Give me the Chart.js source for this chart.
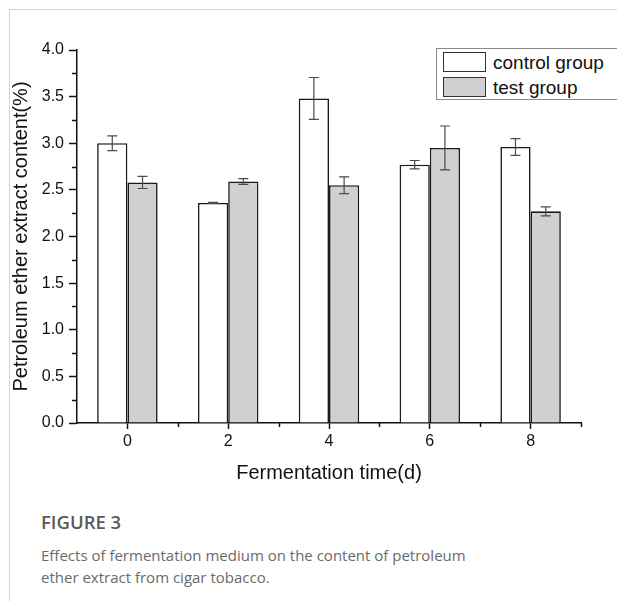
<!DOCTYPE html>
<html>
<head>
<meta charset="utf-8">
<script src="https://cdn.jsdelivr.net/npm/chart.js@4"></script>
<style>
    html, body { margin: 0; padding: 0; background: #fff; }
    body { width: 617px; height: 601px; position: relative; overflow: hidden; }
    #card { position: absolute; left: 9px; top: 9px; width: 700px; height: 700px;
            border-left: 1px solid #d4d4d4; border-top: 1px solid #d4d4d4; }
    #chartBox { position: absolute; left: 0; top: 0; width: 617px; height: 490px; }
    #legend { position: absolute; left: 436px; top: 48px; width: 200px; height: 50px;
              border: 1px solid #8a8a8a; background: #fff;
              font-family: "Liberation Sans", Arial, sans-serif; font-size: 19px; color: #111; }
    .item { position: absolute; left: 6px; height: 21px; line-height: 21px; white-space: nowrap; }
    .swatch { display: inline-block; width: 41px; height: 18px; border: 1.5px solid #333;
              vertical-align: top; margin-right: 7px; }
    #caption { position: absolute; left: 41px; top: 509px; font-family: "Open Sans", sans-serif; }
    #caption .fig { font-size: 18.5px; font-weight: 600; color: #5a5a5a; line-height: 26px; margin-bottom: 9px; }
    #caption .txt { font-size: 15px; color: #6a6a6a; line-height: 22px; font-weight: 400; }
</style>
</head>
<body>
<div id="card"></div>
<div id="chartBox"><canvas id="chart" width="617" height="490"></canvas></div>
<div id="legend"></div>
<div id="caption">
    <div class="fig">FIGURE 3</div>
    <div class="txt">Effects of fermentation medium on the content of petroleum<br>ether extract from cigar tobacco.</div>
</div>
<script>
// fermentation days
const days = [0, 2, 4, 6, 8];
const controlMeans = [3.00, 2.36, 3.48, 2.77, 2.96];
const controlErr = [0.08, 0.005, 0.225, 0.045, 0.09];
const testMeans = [2.58, 2.59, 2.55, 2.95, 2.27];
const testErr = [0.065, 0.03, 0.09, 0.235, 0.048];
const yMajorTicks = [0, 0.5, 1, 1.5, 2, 2.5, 3, 3.5, 4];
const yMinorTicks = [0.25, 0.75, 1.25, 1.75, 2.25, 2.75, 3.25, 3.75];
const xMinorTicks = [1, 3, 5, 7, 9];

const seriesLabels = ['control group', 'test group'];
const seriesFill = ['#ffffff', '#d0d0d0'];
const errors = [controlErr, testErr];

// error bars drawn from the bar elements and y scale
const errorBarPlugin = {
    id: 'errorBars',
    afterDatasetsDraw(chart) {
        const ctx = chart.ctx;
        const yScale = chart.scales.y;
        ctx.save();
        ctx.strokeStyle = '#4a4a4a';
        ctx.lineWidth = 1.2;
        chart.data.datasets.forEach((ds, di) => {
            const meta = chart.getDatasetMeta(di);
            meta.data.forEach((bar, i) => {
                const mean = ds.data[i].y;
                const e = errors[di][i];
                const top = yScale.getPixelForValue(mean + e);
                const bottom = yScale.getPixelForValue(mean - e);
                ctx.beginPath();
                ctx.moveTo(bar.x, top);
                ctx.lineTo(bar.x, bottom);
                ctx.moveTo(bar.x - 5, top);
                ctx.lineTo(bar.x + 5, top);
                ctx.moveTo(bar.x - 5, bottom);
                ctx.lineTo(bar.x + 5, bottom);
                ctx.stroke();
            });
        });
        ctx.restore();
    }
};

// shorter minor ticks on both axes
const minorTickPlugin = {
    id: 'minorTicks',
    afterDraw(chart) {
        const ctx = chart.ctx;
        const x = chart.scales.x;
        const y = chart.scales.y;
        ctx.save();
        ctx.strokeStyle = '#111';
        ctx.lineWidth = 1.5;
        ctx.beginPath();
        yMinorTicks.forEach(v => {
            const py = Math.round(y.getPixelForValue(v)) + 0.5;
            ctx.moveTo(y.right - 5, py);
            ctx.lineTo(y.right, py);
        });
        xMinorTicks.forEach(v => {
            const px = Math.round(x.getPixelForValue(v)) + 0.5;
            ctx.moveTo(px, x.top);
            ctx.lineTo(px, x.top + 4);
        });
        ctx.stroke();
        ctx.restore();
    }
};

const font = 'Liberation Sans';

const chart = new Chart(document.getElementById('chart'), {
    type: 'bar',
    data: {
        datasets: [
            {
                label: seriesLabels[0],
                data: days.map((d, i) => ({ x: d, y: controlMeans[i] })),
                backgroundColor: seriesFill[0],
                borderColor: '#1a1a1a',
                borderWidth: 1.6
            },
            {
                label: seriesLabels[1],
                data: days.map((d, i) => ({ x: d, y: testMeans[i] })),
                backgroundColor: seriesFill[1],
                borderColor: '#1a1a1a',
                borderWidth: 1.6
            }
        ]
    },
    options: {
        responsive: false,
        animation: false,
        categoryPercentage: 0.6,
        barPercentage: 1.0,
        layout: { padding: { left: 0, right: 36, top: 50, bottom: 0 } },
        plugins: {
            legend: { display: false },
            tooltip: { enabled: false }
        },
        scales: {
            x: {
                type: 'linear',
                min: -1,
                max: 9,
                offset: false,
                afterBuildTicks: scale => { scale.ticks = days.map(v => ({ value: v })); },
                afterFit: scale => { scale.height = 67; },
                grid: { drawOnChartArea: false, offset: false, tickLength: 6, tickColor: '#111', tickWidth: 1.5 },
                border: { color: '#111', width: 1.5 },
                ticks: {
                    font: { family: font, size: 16 },
                    color: '#111',
                    padding: 3,
                    maxRotation: 0,
                    callback: v => String(v)
                },
                title: {
                    display: true,
                    text: 'Fermentation time(d)',
                    font: { family: font, size: 20 },
                    color: '#111',
                    padding: { top: 0, bottom: 5 }
                }
            },
            y: {
                min: 0,
                max: 4,
                afterBuildTicks: scale => { scale.ticks = yMajorTicks.map(v => ({ value: v })); },
                afterFit: scale => { scale.width = 77; },
                grid: { drawOnChartArea: false, tickLength: 8, tickColor: '#111', tickWidth: 1.5 },
                border: { color: '#111', width: 1.5 },
                ticks: {
                    font: { family: font, size: 16 },
                    color: '#111',
                    padding: 5,
                    callback: v => Number(v).toFixed(1)
                },
                title: {
                    display: true,
                    text: 'Petroleum ether extract content(%)',
                    font: { family: font, size: 20 },
                    color: '#111',
                    padding: { top: 9, bottom: 0 }
                }
            }
        }
    },
    plugins: [errorBarPlugin, minorTickPlugin]
});

// html legend with a border box, like the original
const legend = document.getElementById('legend');
chart.data.datasets.forEach((ds, i) => {
    const item = document.createElement('div');
    item.className = 'item';
    item.style.top = (3 + i * 25) + 'px';
    item.innerHTML = `<span class="swatch" style="background:${ds.backgroundColor}"></span>${ds.label}`;
    legend.appendChild(item);
});
</script>
</body>
</html>
